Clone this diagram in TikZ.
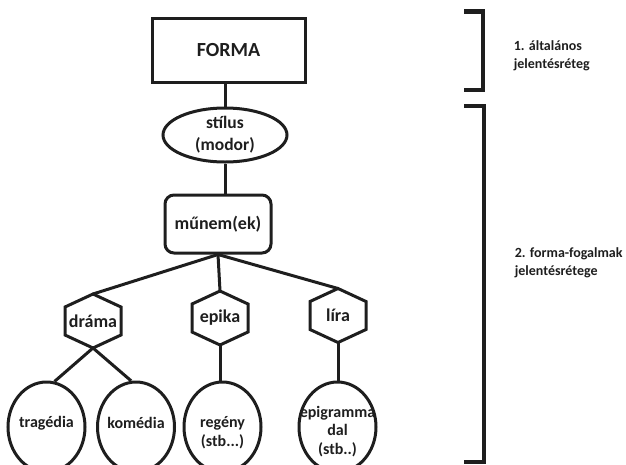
\documentclass[tikz,border=0pt]{standalone}
\usepackage{fontspec}
\setmainfont{Carlito}
\usetikzlibrary{shapes.geometric}
\definecolor{ink}{HTML}{1E1E1E}
\begin{document}
\begin{tikzpicture}[x=1pt,y=-1pt,line width=3pt,draw=ink,
  every node/.style={text=ink,font=\bfseries},
  box/.style={draw,rectangle,inner sep=0pt},
  leaf/.style={draw,ellipse,inner sep=0pt,minimum width=77pt,minimum height=90pt},
  leaftext/.style={align=center,font=\bfseries\fontsize{16}{18.5}\selectfont},
  layer/.style={anchor=west,align=left,font=\bfseries\fontsize{14}{18}\selectfont}]
\useasboundingbox (0,0) rectangle (626,464);
% forma, stilus, munem
\node[box,minimum width=153pt,minimum height=64pt,font=\bfseries\fontsize{20}{24}\selectfont] (forma) at (228.5,50) {FORMA};
\node[draw,ellipse,inner sep=0pt,minimum width=124pt,minimum height=54pt,align=center,
  font=\bfseries\fontsize{17.5}{22}\selectfont] (stilus) at (225,135) {stílus\\(modor)};
\node[box,rounded corners=9pt,minimum width=106pt,minimum height=58pt,font=\bfseries\fontsize{18}{22}\selectfont] (munem) at (218,224) {műnem(ek)};
\draw (stilus.north |- forma.south) -- (stilus.north);
\draw (stilus.south) -- (stilus.south |- munem.north);
% hexagons
\foreach \nm/\txt/\cx/\cy in {drama/dráma/93/321, epika/epika/220/318, lira/líra/338/315.5}{
  \node[font=\bfseries\fontsize{18}{22}\selectfont] (\nm) at (\cx,\cy) {\txt};
  \coordinate (\nm-t) at (\cx,\cy-27);
  \coordinate (\nm-b) at (\cx,\cy+27);
  \draw (\nm-t) -- ++(28,13) -- ++(0,28) -- (\nm-b) -- ++(-28,-13) -- ++(0,-28) -- cycle;
  \draw (munem.south) -- (\nm-t);
}
% leaves
\node[leaf] (tragedia) at (46.5,427) {};
\node[leaf] (komedia) at (136,427) {};
\node[leaf] (regeny) at (222.5,427) {};
\node[leaf] (epigramma) at (337.5,427) {};
\node[leaftext] (tragediatxt) at (46.5,423) {tragédia};
\node[leaftext] (komediatxt) at (136,423) {komédia};
\node[leaftext] (regenytxt) at (222.5,432.5) {regény\\(stb...)};
\node[leaftext] (epigrammatxt) at (337.5,431.5) {epigramma\\dal\\(stb..)};
\draw (drama-b) -- (tragedia.80);
\draw (drama-b) -- (komedia.96);
\draw (epika-b) -- (epika-b |- regeny.north);
\draw (lira-b) -- (lira-b |- epigramma.north);
% brackets
\draw[line width=4.5pt] (464,11.5) -- (483,11.5) -- (483,90) -- (464,90);
\draw[line width=4.5pt] (464,106) -- (484,106) -- (484,462) -- (464,462);
\node[layer] (layer1) at (509,56) {1. általános\\jelentésréteg};
\node[layer] (layer2) at (510,262.5) {2. forma-fogalmak\\jelentésrétege};
\end{tikzpicture}
\end{document}
